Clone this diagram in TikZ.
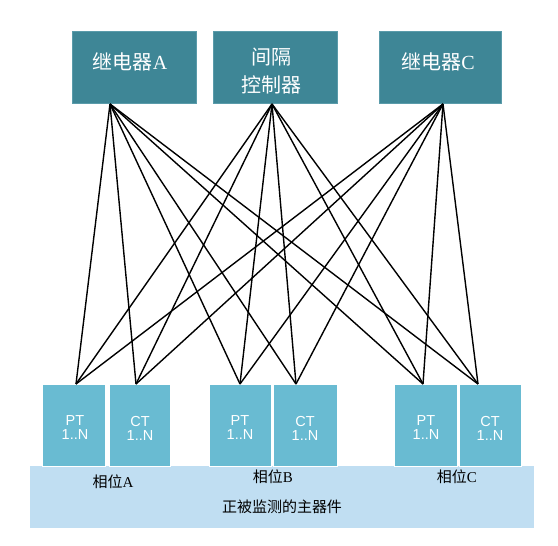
\documentclass[tikz,border=0pt]{standalone}
\usepackage{fontspec}
\setmainfont{Liberation Serif}
\newfontfamily\cjk{Noto Sans CJK SC}
\newfontfamily\lsans{Liberation Sans}
\definecolor{topc}{HTML}{3E8696}
\definecolor{topedge}{HTML}{5A9BAA}
\definecolor{ptc}{HTML}{69BBD2}
\definecolor{basec}{HTML}{C0DEF2}
\begin{document}
\begin{tikzpicture}[x=1pt,y=-1pt,
  topbox/.style={draw=topedge,line width=0.6pt,fill=topc,anchor=north west,inner sep=0pt,
    minimum height=72pt},
  toptxt/.style={text=white,font=\fontsize{20}{28}\selectfont,align=center,inner sep=0pt},
  tbox/.style={draw=white,line width=0.6pt,fill=ptc,anchor=north west,inner sep=0pt,
    minimum height=82pt},
  tlbl/.style={text=white,font=\lsans\fontsize{14.5}{14}\selectfont,align=center,inner sep=0pt},
  basebox/.style={draw=none,fill=basec,anchor=north west,inner sep=0pt,
    minimum width=504pt,minimum height=62pt},
  lbl/.style={font=\fontsize{15}{15}\selectfont,text=black,inner sep=0pt},
  wire/.style={line width=1.4pt,black}]
\useasboundingbox (0,0) rectangle (558,546);
% base
\node[basebox] (base) at (30,466) {};
% top boxes
\node[topbox,minimum width=124pt] (rA) at (72,31) {};
\node[toptxt] (tA) at (130,62) {{\cjk 继电器}A};
\node[topbox,minimum width=124pt] (rB) at (213,31) {};
\node[toptxt] (tB) at (271,71) {{\cjk 间隔}\\{\cjk 控制器}};
\node[topbox,minimum width=122pt] (rC) at (379,31) {};
\node[toptxt] (tC) at (438,62) {{\cjk 继电器}C};
% bottom boxes
\node[tbox,minimum width=63pt] (ptA) at (42,384) {};
\node[tbox,minimum width=61pt] (ctA) at (109,384) {};
\node[tbox,minimum width=62pt] (ptB) at (209,384) {};
\node[tbox,minimum width=64pt] (ctB) at (273,384) {};
\node[tbox,minimum width=63pt] (ptC) at (394,384) {};
\node[tbox,minimum width=62pt] (ctC) at (459,384) {};
\foreach \n/\t/\x in {ptA/PT/75,ctA/CT/140,ptB/PT/240,ctB/CT/305,ptC/PT/426,ctC/CT/490}{
  \node[tlbl] (l\n) at (\x,428) {\t\\1..N};
}
% labels
\node[lbl] (phA) at (113,482) {{\cjk 相位}A};
\node[lbl] (phB) at (273,477) {{\cjk 相位}B};
\node[lbl] (phC) at (457,477) {{\cjk 相位}C};
\node[lbl] (main) at (282,507) {\cjk 正被监测的主器件};
% connector points
\coordinate (sA) at (110,104);
\coordinate (sB) at (272,104);
\coordinate (sC) at (443,104);
\coordinate (dptA) at (76,384);
\coordinate (dctA) at (136,384);
\coordinate (dptB) at (240,384);
\coordinate (dctB) at (296,384);
\coordinate (dptC) at (423,384);
\coordinate (dctC) at (478,384);
\foreach \s in {sA,sB,sC}{
  \foreach \d in {dptA,dctA,dptB,dctB,dptC,dctC}{
    \draw[wire] (\s) -- (\d);
  }
}
\end{tikzpicture}
\end{document}
